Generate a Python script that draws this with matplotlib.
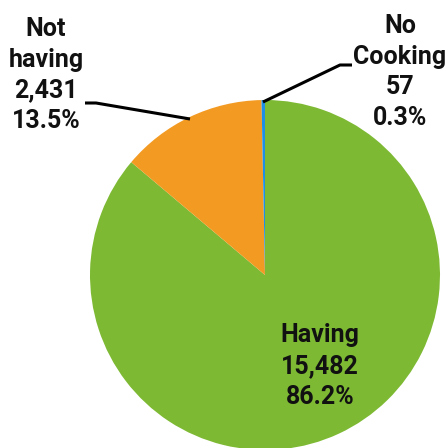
import matplotlib
matplotlib.use("Agg")
import matplotlib.pyplot as plt

categories = ["Having", "Not having", "No Cooking"]
values = [15482, 2431, 57]
percents = ["86.2%", "13.5%", "0.3%"]
colors = ["#7DB933", "#F39A22", "#1E8FE8"]

fig = plt.figure(figsize=(4.48, 4.48), dpi=100)
ax = fig.add_axes([0, 0, 1, 1])

cx, cy, r = 265, 173, 175
ax.pie(values, colors=colors, startangle=90, counterclock=False,
       radius=r, center=(cx, cy), frame=True,
       wedgeprops=dict(linewidth=0))
ax.set_xlim(0, 448)
ax.set_ylim(0, 448)
ax.set_aspect("equal")
ax.axis("off")

tkw = dict(fontsize=18, fontweight="bold", family=["Roboto", "DejaVu Sans"],
           ha="center", va="center", linespacing=1.36, color="#111111")

def fmt(i):
    return f"{values[i]:,}"

ax.text(320, 448 - 366, f"{categories[0]}\n{fmt(0)}\n{percents[0]}", **tkw)
ax.text(46, 448 - 75, "Not\nhaving\n" + fmt(1) + "\n" + percents[1], **tkw)
ax.text(400, 448 - 72, "No\nCooking\n" + fmt(2) + "\n" + percents[2], **tkw)

# leader lines
ax.plot([85, 96, 190], [448 - 103, 448 - 103, 448 - 119], color="black", lw=2.2, solid_capstyle="butt")
ax.plot([263, 340, 352], [448 - 102, 448 - 65, 448 - 65], color="black", lw=2.2, solid_capstyle="butt")

fig.savefig("out.png", dpi=100)
